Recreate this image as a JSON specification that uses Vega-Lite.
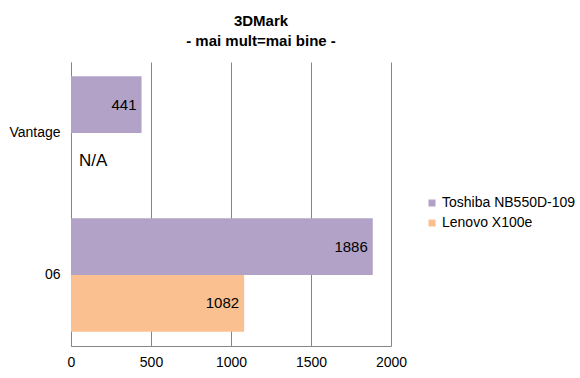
{
  "$schema": "https://vega.github.io/schema/vega-lite/v6.json",
  "autosize": {"type": "none"},
  "width": 320,
  "height": 284,
  "padding": {"left": 71, "top": 62, "right": 189, "bottom": 32},
  "background": "white",
  "title": {
    "text": ["3DMark", "- mai mult=mai bine -"],
    "font": "Liberation Sans",
    "fontSize": 15,
    "fontWeight": "bold",
    "lineHeight": 20,
    "color": "black",
    "anchor": "middle",
    "dx": 30,
    "offset": 13
  },
  "config": {
    "view": {"stroke": null},
    "font": "Liberation Sans",
    "text": {"font": "Liberation Sans"}
  },
  "data": {
    "values": [
      {"test": "Vantage", "system": "Toshiba NB550D-109", "score": 441},
      {"test": "Vantage", "system": "Lenovo X100e", "score": null},
      {"test": "06", "system": "Toshiba NB550D-109", "score": 1886},
      {"test": "06", "system": "Lenovo X100e", "score": 1082}
    ]
  },
  "encoding": {
    "y": {
      "field": "test",
      "type": "nominal",
      "sort": ["Vantage", "06"],
      "scale": {"paddingInner": 0.2, "paddingOuter": 0.1},
      "axis": {
        "title": null,
        "ticks": false,
        "labelPadding": 11,
        "labelFont": "Liberation Sans",
        "labelFontSize": 14,
        "labelColor": "black",
        "domainColor": "#868686",
        "labelAngle": 0
      }
    },
    "yOffset": {
      "field": "system",
      "type": "nominal",
      "sort": ["Toshiba NB550D-109", "Lenovo X100e"]
    }
  },
  "layer": [
    {
      "mark": {"type": "bar"},
      "encoding": {
        "x": {
          "field": "score",
          "type": "quantitative",
          "scale": {"domain": [0, 2000], "nice": false},
          "axis": {
            "title": null,
            "values": [0, 500, 1000, 1500, 2000],
            "format": "d",
            "ticks": false,
            "labelPadding": 9,
            "labelFont": "Liberation Sans",
            "labelFontSize": 14,
            "labelColor": "black",
            "gridColor": "#868686",
            "domainColor": "#868686",
            "labelFlush": false
          }
        },
        "color": {
          "field": "system",
          "type": "nominal",
          "sort": ["Toshiba NB550D-109", "Lenovo X100e"],
          "scale": {
            "domain": ["Toshiba NB550D-109", "Lenovo X100e"],
            "range": ["#B3A2C7", "#FAC090"]
          },
          "legend": {
            "title": null,
            "orient": "none",
            "legendX": 354,
            "legendY": 134,
            "symbolType": "square",
            "symbolSize": 49,
            "symbolStrokeWidth": 0,
            "labelFont": "Liberation Sans",
            "labelFontSize": 14,
            "labelColor": "black",
            "rowPadding": 6,
            "labelOffset": 3
          }
        }
      }
    },
    {
      "transform": [{"filter": "isValid(datum.score)"}],
      "mark": {"type": "text", "align": "right", "baseline": "middle", "dx": -5, "fontSize": 15, "color": "black"},
      "encoding": {
        "x": {"field": "score", "type": "quantitative"},
        "text": {"field": "score", "type": "quantitative", "format": "d"}
      }
    },
    {
      "transform": [{"filter": "!isValid(datum.score)"}],
      "mark": {"type": "text", "align": "left", "baseline": "middle", "dx": 8, "fontSize": 17, "color": "black"},
      "encoding": {
        "x": {"datum": 0},
        "text": {"value": "N/A"}
      }
    }
  ]
}
